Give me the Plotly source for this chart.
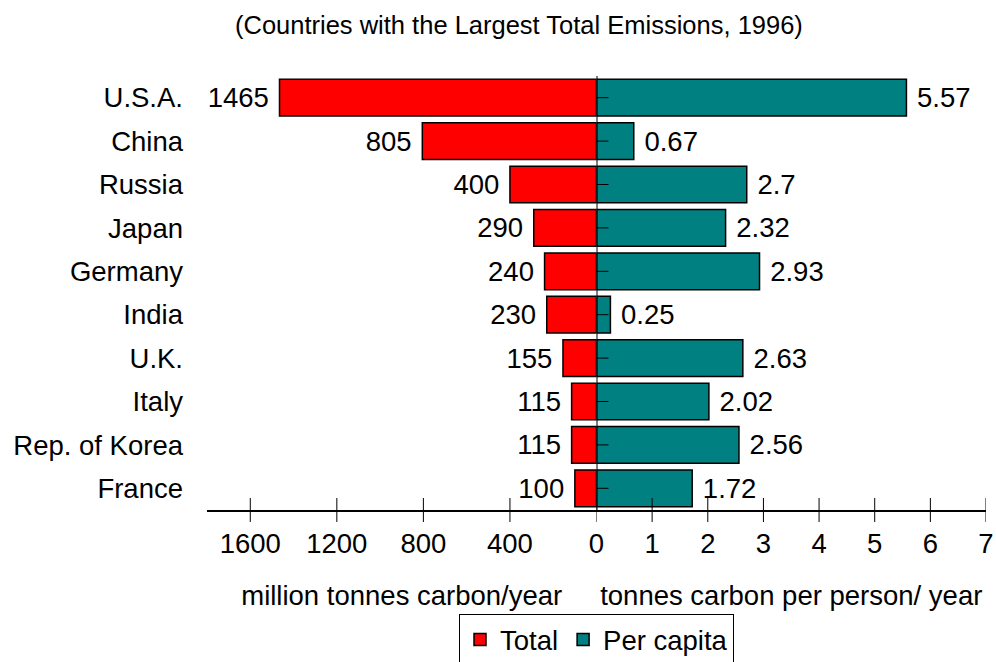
import plotly.graph_objects as go

# Countries with the largest total CO2 emissions, 1996
countries = ["U.S.A.", "China", "Russia", "Japan", "Germany", "India",
             "U.K.", "Italy", "Rep. of Korea", "France"]
total_emissions = [1465, 805, 400, 290, 240, 230, 155, 115, 115, 100]   # million tonnes carbon/year
per_capita = [5.57, 0.67, 2.7, 2.32, 2.93, 0.25, 2.63, 2.02, 2.56, 1.72]  # tonnes carbon per person/year

left_ticks = [1600, 1200, 800, 400]
right_ticks = [0, 1, 2, 3, 4, 5, 6, 7]

FONT = "Liberation Sans, Arial, sans-serif"
FS = 27.5
RED = "#FF0000"
TEAL = "#008080"
NB = "\u00a0"
TICK = 12  # half-length of the crossing tick marks, px

fig = go.Figure()

fig.add_trace(go.Bar(
    name="Total", y=countries, x=total_emissions, orientation="h",
    xaxis="x", yaxis="y",
    marker=dict(color=RED, line=dict(color="black", width=1.5)),
    text=[f"{v}{NB}" for v in total_emissions], textposition="outside",
    textfont=dict(family=FONT, size=FS, color="black"),
    constraintext="none", cliponaxis=False, hoverinfo="x+y",
))
fig.add_trace(go.Bar(
    name="Per capita", y=countries, x=per_capita, orientation="h",
    xaxis="x2", yaxis="y",
    marker=dict(color=TEAL, line=dict(color="black", width=1.5)),
    text=[f"{NB}{v}" for v in per_capita], textposition="outside",
    textfont=dict(family=FONT, size=FS, color="black"),
    constraintext="none", cliponaxis=False, hoverinfo="x+y",
))

n = len(countries)
tickfont = dict(family=FONT, size=FS, color="black")

shapes = []
# crossing tick marks on the bottom axes
for axis, vals in (("x", left_ticks), ("x2", right_ticks)):
    for v in vals:
        shapes.append(dict(type="line", layer="above", xref=axis, x0=v, x1=v,
                           yref="y domain", yanchor=0, ysizemode="pixel",
                           y0=-TICK, y1=TICK, line=dict(color="black", width=1)))
# central divider
shapes.append(dict(type="line", layer="above", xref="x2", x0=0, x1=0,
                   yref="y domain", y0=0, y1=1, line=dict(color="black", width=2)))
# crossing category ticks on the divider
for c in countries:
    shapes.append(dict(type="line", layer="above", xref="x2", xanchor=0, xsizemode="pixel",
                       x0=-TICK, x1=TICK, yref="y", y0=c, y1=c,
                       line=dict(color="black", width=1)))

fig.update_layout(
    width=996, height=662,
    margin=dict(l=207, r=10, t=76, b=152, autoexpand=False),
    paper_bgcolor="white", plot_bgcolor="white",
    font=dict(family=FONT, size=FS, color="black"),
    bargap=0.155,
    title=dict(text="(Countries with the Largest Total Emissions, 1996)",
               font=dict(family=FONT, size=25.5, color="black"),
               x=0.521, xref="container", xanchor="center",
               y=0.962, yref="container", yanchor="middle"),
    # left half: total emissions, growing leftwards from the centre
    xaxis=dict(domain=[0, 0.5], range=[1800, 0], anchor="y",
               tickvals=left_ticks, ticktext=[str(t) for t in left_ticks],
               ticks="", ticklabelstandoff=8,
               showline=True, linecolor="black", linewidth=1.5,
               showgrid=False, zeroline=False, tickfont=tickfont,
               title=dict(text="million tonnes carbon/year", font=tickfont, standoff=28)),
    # right half: emissions per person
    xaxis2=dict(domain=[0.5, 1], range=[0, 7], anchor="y",
                tickvals=right_ticks, ticks="", ticklabelstandoff=8,
                showline=True, linecolor="black", linewidth=1.5,
                showgrid=False, zeroline=False, tickfont=tickfont,
                title=dict(text="tonnes carbon per person/ year", font=tickfont, standoff=28)),
    yaxis=dict(domain=[0, 1], range=[n - 0.5, -0.5], anchor="x", type="category",
               categoryorder="array", categoryarray=countries,
               showline=False, ticks="", showgrid=False, zeroline=False,
               tickfont=tickfont, ticklabelstandoff=23),
    shapes=shapes,
    showlegend=True,
    legend=dict(orientation="h", x=0.5, xanchor="center", y=-0.24, yanchor="top",
                bordercolor="black", borderwidth=1, bgcolor="white",
                font=dict(family=FONT, size=FS, color="black"),
                traceorder="normal"),
)

fig.write_html("out.html")
